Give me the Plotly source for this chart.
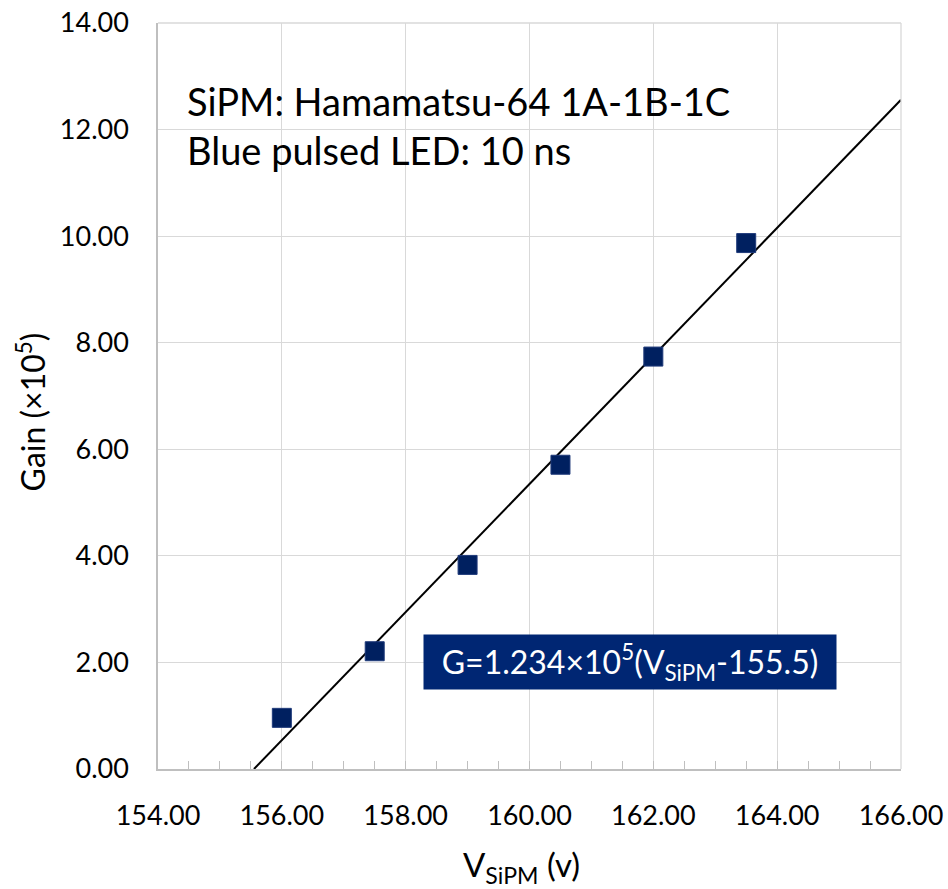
import plotly.graph_objects as go

# Data
v_sipm = [156.0, 157.5, 159.0, 160.5, 162.0, 163.5]
gain = [0.96, 2.21, 3.83, 5.71, 7.74, 9.87]

# Trend line end points (as drawn in the reference)
trend_x = [155.55, 166.0]
trend_y = [0.0, 12.56]

x_ticks = [154, 156, 158, 160, 162, 164, 166]
y_ticks = [0, 2, 4, 6, 8, 10, 12, 14]

FONT = "Lato"
L, R, T, B = 157.5, 900.7, 23.3, 769.0
PW, PH = R - L, B - T

fig = go.Figure()
fig.add_trace(go.Scatter(
    x=trend_x, y=trend_y, mode="lines",
    line=dict(color="black", width=2), showlegend=False, hoverinfo="skip"))
fig.add_trace(go.Scatter(
    x=v_sipm, y=gain, mode="markers",
    marker=dict(symbol="square", size=19, color="#002060",
                line=dict(color="#1f3a7a", width=1)),
    showlegend=False))

fig.update_layout(
    width=948, height=889,
    margin=dict(l=L, r=948 - R, t=T, b=889 - B, autoexpand=False),
    plot_bgcolor="white", paper_bgcolor="white",
    font=dict(family=FONT, size=27, color="black"),
    xaxis=dict(
        range=[154, 166], tickvals=x_ticks,
        ticktext=[f"{v:.2f}" for v in x_ticks],
        showgrid=True, gridcolor="#d9d9d9", gridwidth=1.3,
        showline=True, linecolor="#bfbfbf", linewidth=1.5,
        ticks="inside", ticklen=8, tickcolor="#bfbfbf", tickwidth=1.3,
        minor=dict(dtick=0.5, tick0=154, ticks="inside", ticklen=8,
                   tickcolor="#bfbfbf", tickwidth=1.3, showgrid=False),
        ticklabelstandoff=22, automargin=False,
        zeroline=False, fixedrange=True,
        tickfont=dict(size=27),
    ),
    yaxis=dict(
        range=[0, 14], tickvals=y_ticks,
        ticktext=[f"{v:.2f}" for v in y_ticks],
        showgrid=True, gridcolor="#d9d9d9", gridwidth=1.3,
        showline=True, linecolor="#bfbfbf", linewidth=1.5,
        ticks="", ticklabelstandoff=22, automargin=False,
        zeroline=False, fixedrange=True,
        tickfont=dict(size=27),
    ),
    shapes=[
        dict(type="line", xref="paper", yref="paper", x0=0, x1=1, y0=1, y1=1,
             line=dict(color="#d9d9d9", width=1.3)),
        dict(type="line", xref="paper", yref="paper", x0=1, x1=1, y0=0, y1=1,
             line=dict(color="#d9d9d9", width=1.3)),
    ],
    annotations=[
        dict(text="SiPM: Hamamatsu-64 1A-1B-1C<br>Blue pulsed LED: 10 ns",
             xref="paper", yref="paper", x=(185 - L) / PW,
             y=(B - 76) / PH, xanchor="left", yanchor="top",
             align="left", showarrow=False,
             font=dict(family=FONT, size=38, color="black")),
        dict(text="G=1.234×10<sup>5</sup>(V<sub>SiPM</sub>-155.5)",
             xref="paper", yref="paper", x=(630 - L) / PW,
             y=(B - 662) / PH, xanchor="center", yanchor="middle",
             showarrow=False, bgcolor="#002673", borderpad=0,
             width=412, height=54,
             font=dict(family=FONT, size=32, color="white")),
        dict(text="V<sub>SiPM</sub> (v)", xref="paper", yref="paper",
             x=(521 - L) / PW, y=-(866 - B) / PH,
             xanchor="center", yanchor="middle", showarrow=False,
             font=dict(family=FONT, size=33)),
        dict(text="Gain (×10<sup>5</sup>)", xref="paper", yref="paper",
             x=-(L - 30) / PW, y=(B - 412) / PH,
             xanchor="center", yanchor="middle", textangle=-90,
             showarrow=False, font=dict(family=FONT, size=32)),
    ],
)

fig.write_html("out.html")
